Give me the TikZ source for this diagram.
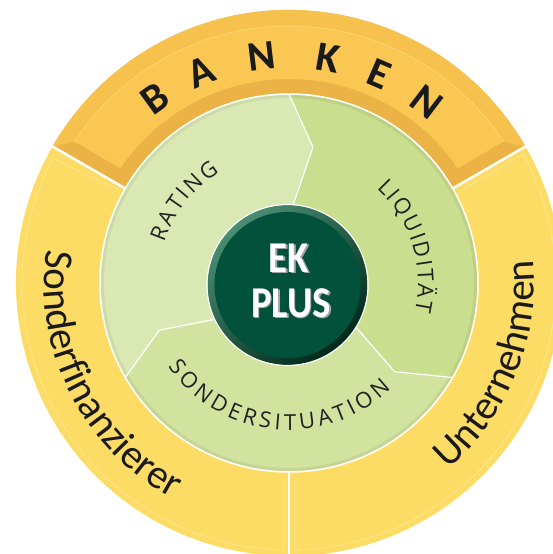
\documentclass[tikz,border=0pt]{standalone}
\usepackage{fontspec}
\setmainfont{Carlito}
\newfontfamily\labfont{Carlito}
\newfontfamily\grfont{Open Sans}
\usetikzlibrary{decorations.text}
\definecolor{bankmain}{HTML}{FAC752}
\definecolor{bankouter}{HTML}{F6C14D}
\definecolor{bankdark}{HTML}{EBB345}
\definecolor{sideyel}{HTML}{FDDC66}
\definecolor{sidelight}{HTML}{FFE588}
\definecolor{ratg}{HTML}{DAE9B3}
\definecolor{liqg}{HTML}{C9DE8F}
\definecolor{sondg}{HTML}{D2E3A0}
\definecolor{ekg}{HTML}{02523B}
\definecolor{ekrimlight}{HTML}{4A8E73}
\definecolor{ekrimdark}{HTML}{00281B}
\definecolor{txtdark}{HTML}{1A1A1A}
\definecolor{grtxt}{HTML}{222222}
\tikzset{
  sep/.style={white,line width=2.5pt},
  gline/.style={white,line width=1.2pt,line join=round},
  bankletter/.style={font=\labfont\bfseries\fontsize{42}{42}\selectfont,text=txtdark,inner sep=0pt},
  ektext/.style={font=\labfont\bfseries\fontsize{44}{44}\selectfont,inner sep=0pt,anchor=base}
}
\begin{document}
\begin{tikzpicture}[x=1pt,y=1pt]
\useasboundingbox (-289,-271) rectangle (264,283);
\clip (-289,-271) rectangle (264,283);
\fill[white] (-289,-271) rectangle (264,283);
% side segments
\fill[sideyel] (150:273) arc[start angle=150,end angle=270,radius=273] -- (270:189) arc[start angle=270,end angle=150,radius=189] -- cycle;
\fill[sideyel] (-90:273) arc[start angle=-90,end angle=30,radius=273] -- (30:189) arc[start angle=30,end angle=-90,radius=189] -- cycle;
\draw[sidelight,line width=0.8pt] (151.3:195) -- (152.2:267) arc[start angle=152.2,end angle=268.8,radius=267] -- (268.3:195);
\draw[sidelight,line width=0.8pt] (-88.3:195) -- (-88.8:267) arc[start angle=-88.8,end angle=28.8,radius=267] -- (28.3:195);
% Banken segment
\fill[bankdark] (30:273) arc[start angle=30,end angle=150,radius=273] -- (150:189) arc[start angle=150,end angle=30,radius=189] -- cycle;
\fill[bankouter] (30:273) arc[start angle=30,end angle=150,radius=273] -- (146.6:257) arc[start angle=146.6,end angle=33.4,radius=257] -- cycle;
\fill[bankmain] (33.4:257) arc[start angle=33.4,end angle=146.6,radius=257] -- (145.8:204) arc[start angle=145.8,end angle=34.2,radius=204] -- cycle;
\draw[sidelight,line width=0.6pt,opacity=0.7] (146.6:257) arc[start angle=146.6,end angle=33.4,radius=257];
% separators
\draw[sep] (30:186) -- (30:280);
\draw[sep] (150:186) -- (150:280);
\draw[sep] (270:186) -- (270:280);
% green segments
\fill[ratg] (90:189) arc[start angle=90,end angle=210,radius=189] -- (200:138) -- (207:80) -- (0,0) -- (87:80) -- (80:138) -- cycle;
\fill[sondg] (210:189) arc[start angle=210,end angle=330,radius=189] -- (320:138) -- (327:80) -- (0,0) -- (207:80) -- (200:138) -- cycle;
\fill[liqg] (330:189) arc[start angle=330,end angle=450,radius=189] -- (440:138) -- (447:80) -- (0,0) -- (327:80) -- (320:138) -- cycle;
\draw[black,opacity=0.06,line width=3pt] (0,0) circle[radius=186.5];
\draw[gline] (87:78) -- (80:138) -- (90:189);
\draw[gline] (327:78) -- (320:138) -- (330:189);
\draw[gline] (207:78) -- (200:138) -- (210:189);
\draw[white,line width=1.5pt] (0,0) circle[radius=189];
% EK PLUS button
\coordinate (ek) at (-1.5,-2);
\shade[shading=axis,top color=ekrimlight,bottom color=ekrimdark,shading angle=40] (ek) circle[radius=80];
\fill[ekg] (ek) circle[radius=73];
\draw[white,line width=1.2pt,opacity=0.9] (ek) circle[radius=80.5];
\node[ektext,text=black!35] (ekshadow) at (1.5,9.5) {\scalebox{0.88}[1]{EK}};
\node[ektext,text=white] (ektxt) at (0,11) {\scalebox{0.88}[1]{EK}};
\node[ektext,text=black!35] (plusshadow) at (3.5,-35.5) {\scalebox{0.88}[1]{PLUS}};
\node[ektext,text=white] (plustxt) at (2,-34) {\scalebox{0.88}[1]{PLUS}};
% BANKEN
\foreach \a/\l [count=\i] in {126/B,112.6/A,96.8/N,80/K,66.7/E,52.7/N}
  \node[bankletter,rotate=\a-90] (bk\i) at (\a:228) {\l};
% outer labels
\path[decorate,decoration={text along path,text align=center,
  text={|\labfont\fontsize{41}{41}\selectfont\color{txtdark}|Sonderfinanzierer}}]
  (160:245) arc[start angle=160,end angle=254,radius=245];
\path[decorate,decoration={text along path,text align=center,
  text={|\labfont\fontsize{41}{41}\selectfont\color{txtdark}|Unternehmen}}]
  (-70:245) arc[start angle=-70,end angle=26,radius=245];
% green labels
\path[decorate,decoration={text along path,text align={fit to path},
  text={|\grfont\fontsize{22}{22}\selectfont\color{grtxt}|RATING}}]
  (162:131) arc[start angle=162,end angle=122,radius=131];
\path[decorate,decoration={text along path,text align={fit to path},
  text={|\grfont\fontsize{22}{22}\selectfont\color{grtxt}|LIQUIDITÄT}}]
  (47.3:129) arc[start angle=47.3,end angle=-12.8,radius=129];
\path[decorate,decoration={text along path,text align={fit to path},
  text={|\grfont\fontsize{22}{22}\selectfont\color{grtxt}|SONDERSITUATION}}]
  (214.6:147) arc[start angle=214.6,end angle=313.9,radius=147];
\end{tikzpicture}
\end{document}
